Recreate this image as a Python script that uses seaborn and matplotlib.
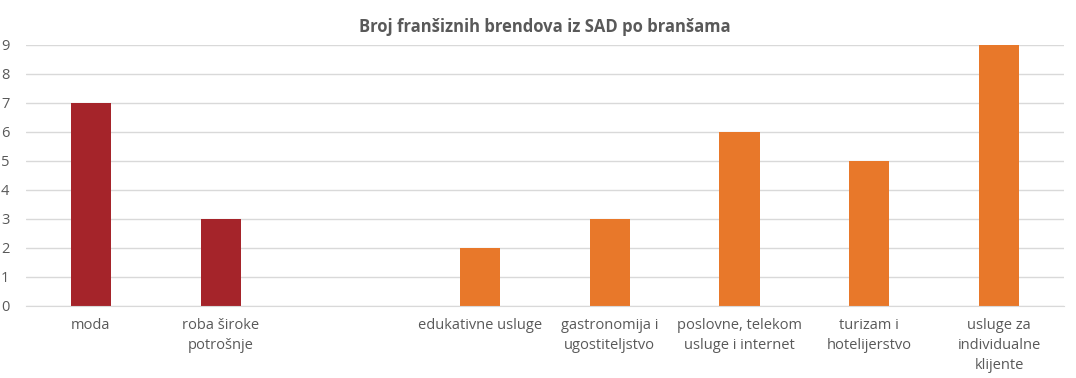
import pandas as pd
import numpy as np
import matplotlib.pyplot as plt
import seaborn as sns

categories = ['moda', 'roba široke\npotrošnje', ' ', 'edukativne usluge',
              'gastronomija i\nugostiteljstvo', 'poslovne, telekom\nusluge i internet',
              'turizam i\nhotelijerstvo', 'usluge za\nindividualne\nklijente']
values = [7, 3, 0, 2, 3, 6, 5, 9]
groups = ['a', 'a', 'b', 'b', 'b', 'b', 'b', 'b']

data = pd.DataFrame({'kat': categories, 'broj': values, 'grupa': groups})
colors = {'a': '#A5242A', 'b': '#E8782A'}

sns.set_style('white')
plt.rcParams['font.family'] = ['Open Sans', 'DejaVu Sans']

fig = plt.figure(figsize=(10.76, 3.78), dpi=100)
ax = fig.add_axes([0.0242, 0.1905, 0.9646, 0.6905])
sns.barplot(data=data, x='kat', y='broj', hue='grupa', palette=colors,
            order=categories, width=0.31, dodge=False, legend=False,
            saturation=1, linewidth=0, ax=ax)

ax.set_ylim(0, 9)
ax.set_yticks(range(10))
ax.grid(axis='y', color='#D9D9D9', linewidth=1)
ax.set_axisbelow(True)
for s in ['top', 'right', 'left']:
    ax.spines[s].set_visible(False)
ax.spines['bottom'].set_color('#D9D9D9')
ax.tick_params(axis='both', length=0, labelsize=10.5, labelcolor='#595959')
ax.tick_params(axis='y', pad=12)
ax.tick_params(axis='x', pad=9)
for lbl in ax.get_xticklabels():
    lbl.set_linespacing(1.45)
ax.set_xlabel('')
ax.set_ylabel('')
ax.set_title('Broj franšiznih brendova iz SAD po branšama', fontsize=12,
             fontweight='bold', color='#595959', pad=9)

fig.savefig('out.png', dpi=100)
